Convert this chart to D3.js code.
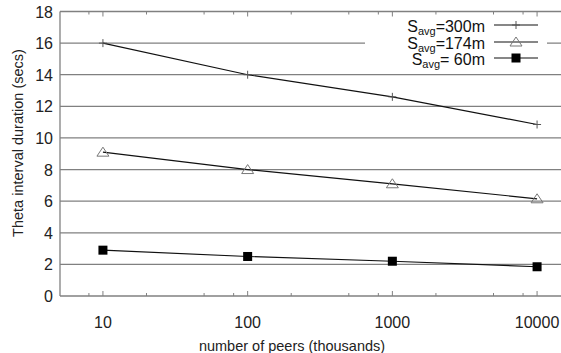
<!DOCTYPE html>
<html>
<head>
<meta charset="utf-8">
<script src="https://cdn.jsdelivr.net/npm/d3@7"></script>
<style>
  body { margin: 0; background: #fff; }
  svg { display: block; font-family: "Liberation Sans", Arial, sans-serif; }
</style>
</head>
<body>
<div id="chart"></div>
<script>
// peers in thousands, log x axis
const peers = [10, 100, 1000, 10000];
const s300 = [16.0, 14.0, 12.6, 10.85];
const s174 = [9.1, 8.0, 7.1, 6.15];
const s60 = [2.9, 2.5, 2.2, 1.85];
const yTicks = [0, 2, 4, 6, 8, 10, 12, 14, 16, 18];
const seriesNames = ["300m", "174m", " 60m"];

const W = 561, H = 353;
const plotLeft = 60, plotTop = 11.5, plotBottom = 296;

const x = d3.scaleLog().domain([5.05, 10 ** 4.25]).range([plotLeft, plotLeft + 3.547 * 144.7]);
const y = d3.scaleLinear().domain([0, 18]).range([plotBottom, plotTop]);

const svg = d3.select('#chart').append('svg')
  .attr('width', W).attr('height', H);

// horizontal grid
svg.append('g').selectAll('line')
  .data(yTicks)
  .enter().append('line')
  .attr('x1', plotLeft).attr('x2', W + 10)
  .attr('y1', d => y(d)).attr('y2', d => y(d))
  .attr('stroke', '#808080').attr('stroke-width', 1.3);

// left axis line
svg.append('line')
  .attr('x1', plotLeft).attr('x2', plotLeft)
  .attr('y1', plotTop).attr('y2', plotBottom)
  .attr('stroke', '#808080').attr('stroke-width', 1.3);

// minor ticks at 2,5,8 of each decade; major at decades
const minor = [];
[1, 10, 100, 1000, 10000].forEach(d => [2, 5, 8].forEach(m => minor.push(d * m)));
const minorIn = minor.filter(v => x(v) > plotLeft && x(v) < W);

function tickRow(yy, dir) {
  svg.append('g').selectAll('line')
    .data(minorIn).enter().append('line')
    .attr('x1', d => x(d)).attr('x2', d => x(d))
    .attr('y1', yy).attr('y2', yy + dir * 3)
    .attr('stroke', '#808080');
  svg.append('g').selectAll('line')
    .data(peers).enter().append('line')
    .attr('x1', d => x(d)).attr('x2', d => x(d))
    .attr('y1', yy).attr('y2', yy + dir * 5)
    .attr('stroke', '#808080');
}
tickRow(plotBottom, -1);
tickRow(plotTop, 1);

// y tick labels
svg.append('g').selectAll('text')
  .data(yTicks).enter().append('text')
  .attr('x', 53).attr('y', d => y(d) + 6)
  .attr('text-anchor', 'end')
  .attr('font-size', 16)
  .attr('fill', '#222')
  .text(d => d);

// x tick labels
svg.append('g').selectAll('text')
  .data(peers).enter().append('text')
  .attr('x', d => x(d)).attr('y', 328)
  .attr('text-anchor', 'middle')
  .attr('font-size', 16)
  .attr('fill', '#222')
  .text(d => d);

// axis titles
svg.append('text')
  .attr('x', 292).attr('y', 351)
  .attr('text-anchor', 'middle')
  .attr('font-size', 14.5).attr('fill', '#222')
  .text('number of peers (thousands)');

svg.append('text')
  .attr('transform', 'translate(23,143) rotate(-90)')
  .attr('text-anchor', 'middle')
  .attr('font-size', 14.5).attr('fill', '#222')
  .text('Theta interval duration (secs)');

// legend background
svg.append('rect')
  .attr('x', 365).attr('y', 18).attr('width', 182).attr('height', 46)
  .attr('fill', '#fff');

const line = d3.line().x((d, i) => x(peers[i])).y(d => y(d));
const allSeries = [s300, s174, s60];

allSeries.forEach(s => {
  svg.append('path')
    .datum(s)
    .attr('d', line)
    .attr('fill', 'none')
    .attr('stroke', '#111')
    .attr('stroke-width', 1.2);
});

function marker(g, kind, cx, cy) {
  if (kind === 0) {
    g.append('line')
      .attr('x1', cx).attr('x2', cx).attr('y1', cy - 4).attr('y2', cy + 4)
      .attr('stroke', '#555');
    g.append('line')
      .attr('x1', cx - 4).attr('x2', cx + 4).attr('y1', cy).attr('y2', cy)
      .attr('stroke', '#555');
  } else if (kind === 1) {
    g.append('path')
      .attr('d', `M${cx},${cy - 5}L${cx + 6},${cy + 4}L${cx - 6},${cy + 4}Z`)
      .attr('fill', 'none').attr('stroke', '#777').attr('stroke-width', 1);
  } else {
    g.append('rect')
      .attr('x', cx - 4.5).attr('y', cy - 4.5).attr('width', 9).attr('height', 9)
      .attr('fill', '#000');
  }
}

const markers = svg.append('g');
allSeries.forEach((s, k) => {
  s.forEach((v, i) => marker(markers, k, x(peers[i]), y(v)));
});

// legend
const legY = [25, 42, 58];
seriesNames.forEach((name, k) => {
  const t = svg.append('text')
    .attr('x', 485).attr('y', legY[k] + 7)
    .attr('text-anchor', 'end')
    .attr('font-size', 16).attr('fill', '#111')
    .style('white-space', 'pre');
  t.append('tspan').text('S');
  t.append('tspan').attr('font-size', 11).attr('dy', 3).text('avg');
  t.append('tspan').attr('dy', -3).text('=' + name);
  svg.append('line')
    .attr('x1', 494).attr('x2', 538)
    .attr('y1', legY[k]).attr('y2', legY[k])
    .attr('stroke', '#111').attr('stroke-width', 1.2);
  marker(svg, k, 516, legY[k]);
});
</script>
</body>
</html>
